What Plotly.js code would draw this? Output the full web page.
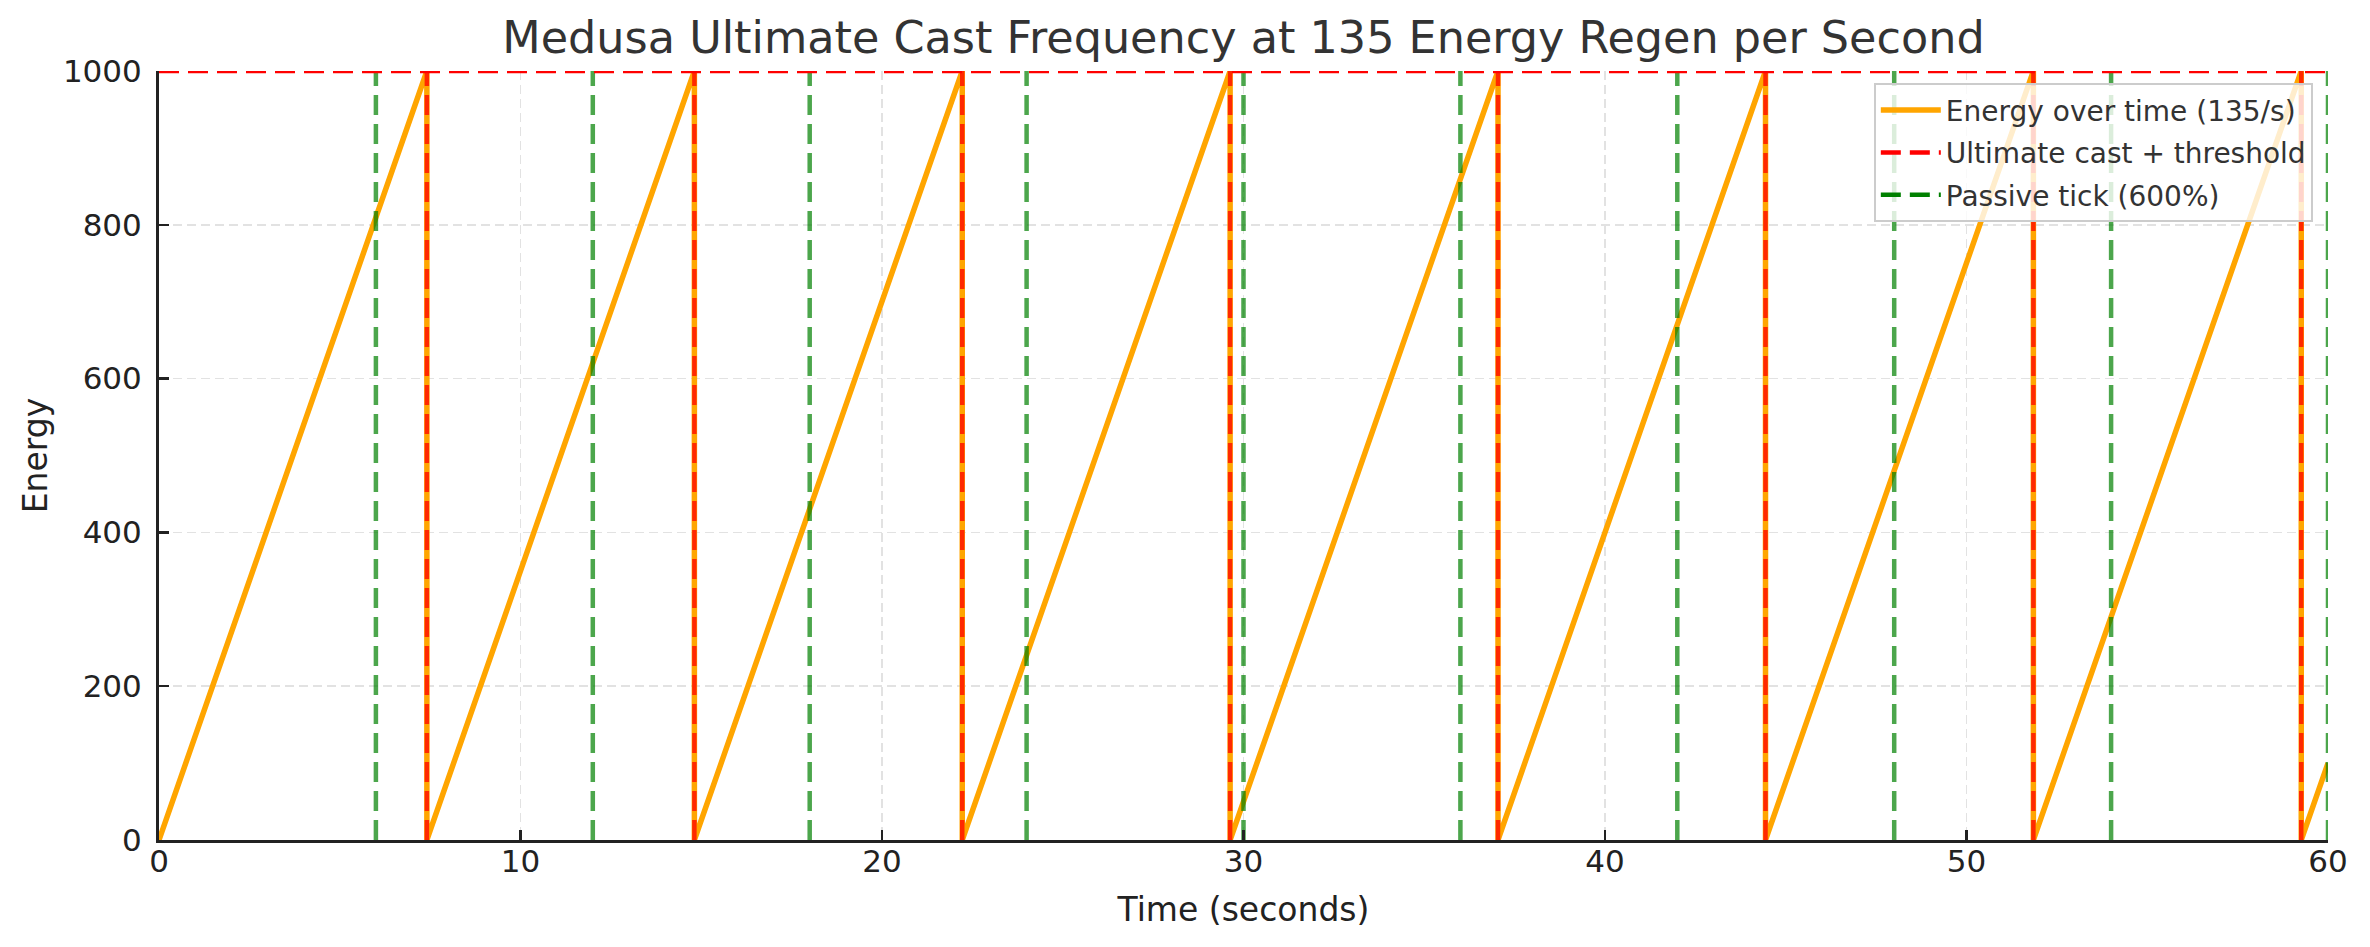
<!DOCTYPE html>
<html>
<head>
<meta charset="utf-8">
<script src="https://cdn.plot.ly/plotly-3.0.1.min.js"></script>
<style>html,body{margin:0;padding:0;background:#fff;}#chart{width:2370px;height:947px;}</style>
</head>
<body>
<div id="chart"></div>
<script>
// Energy sawtooth: time in seconds, energy
const energyTime = [0, 7.41, 7.41, 14.81, 14.81, 22.22, 22.22, 29.63, 29.63, 37.04, 37.04, 44.44, 44.44, 51.85, 51.85, 59.26, 59.26, 60];
const energyValue = [0, 1000, 0, 1000, 0, 1000, 0, 1000, 0, 1000, 0, 1000, 0, 1000, 0, 1000, 0, 100];
// Ultimate cast times
const castTimes = [7.41, 14.81, 22.22, 29.63, 37.04, 44.44, 51.85, 59.26];
// Passive tick times
const passiveTimes = [6, 12, 18, 24, 30, 36, 42, 48, 54, 60];
const threshold = 1000;
const xTicks = [0, 10, 20, 30, 40, 50, 60];
const yTicks = [0, 200, 400, 600, 800, 1000];

function vlines(times, yMin, yMax) {
  const xs = [], ys = [];
  times.forEach(t => { xs.push(t, t, null); ys.push(yMin, yMax, null); });
  return {x: xs, y: ys};
}

const castL = vlines(castTimes, 0, threshold);
const passL = vlines(passiveTimes, 0, threshold);
const DASH = '20px,9px';
const font = 'DejaVu Sans, Liberation Sans, sans-serif';

const traces = [
  {x: energyTime, y: energyValue, mode: 'lines', name: 'Energy over time (135/s)',
   line: {color: '#FFA500', width: 5.5}, showlegend: true, legendgroup: 'a', hoverinfo: 'skip'},
  {x: castL.x, y: castL.y, mode: 'lines', name: 'cast', showlegend: false,
   line: {color: 'rgba(255,0,0,0.75)', width: 4.5, dash: DASH}, hoverinfo: 'skip'},
  {x: passL.x, y: passL.y, mode: 'lines', name: 'passive', showlegend: false,
   line: {color: 'rgba(0,128,0,0.7)', width: 4.5, dash: DASH}, hoverinfo: 'skip'},
  {x: [0, 60], y: [threshold, threshold], mode: 'lines', name: 'Ultimate cast + threshold',
   line: {color: '#FF0000', width: 4.5, dash: DASH}, showlegend: true, legendgroup: 'b', hoverinfo: 'skip', cliponaxis: false},
  {x: [null], y: [null], mode: 'lines', name: 'Passive tick (600%)',
   line: {color: '#008000', width: 4.5, dash: DASH}, showlegend: true, legendgroup: 'c'}
];

const axisCommon = {
  showline: true, linecolor: '#222', linewidth: 3, mirror: false,
  ticks: 'inside', ticklen: 10, tickwidth: 2.5, tickcolor: '#222',
  showgrid: true, gridcolor: '#e2e2e2', gridwidth: 1.5, griddash: '9px,5px',
  zeroline: false, tickfont: {family: font, size: 31, color: '#222'}
};

const layout = {
  width: 2370, height: 947,
  margin: {l: 159, r: 42, t: 71, b: 107},
  paper_bgcolor: '#fff', plot_bgcolor: '#fff',
  font: {family: font},
  title: {text: 'Medusa Ultimate Cast Frequency at 135 Energy Regen per Second',
          font: {family: font, size: 44.5, color: '#333'},
          x: 0.5, xanchor: 'center', y: 0.96, yanchor: 'middle', xref: 'paper', yref: 'container'},
  xaxis: Object.assign({}, axisCommon, {
    range: [0, 60], tickvals: xTicks, ticktext: xTicks.map(String), ticklabelstandoff: -8,
    title: {text: 'Time (seconds)', font: {family: font, size: 33, color: '#222'}, standoff: 20}
  }),
  yaxis: Object.assign({}, axisCommon, {
    range: [0, 1000], tickvals: yTicks, ticktext: yTicks.map(String), ticklabelstandoff: 8,
    title: {text: 'Energy', font: {family: font, size: 33, color: '#222'}, standoff: 6}
  }),
  showlegend: true,
  legend: {x: 0.993, y: 0.984, xanchor: 'right', yanchor: 'top',
           bgcolor: 'rgba(255,255,255,0.8)', bordercolor: '#cccccc', borderwidth: 2,
           font: {family: font, size: 28, color: '#333'}, tracegroupgap: 3, itemwidth: 60}
};

Plotly.newPlot('chart', traces, layout, {displayModeBar: false, staticPlot: true});
</script>
</body>
</html>
